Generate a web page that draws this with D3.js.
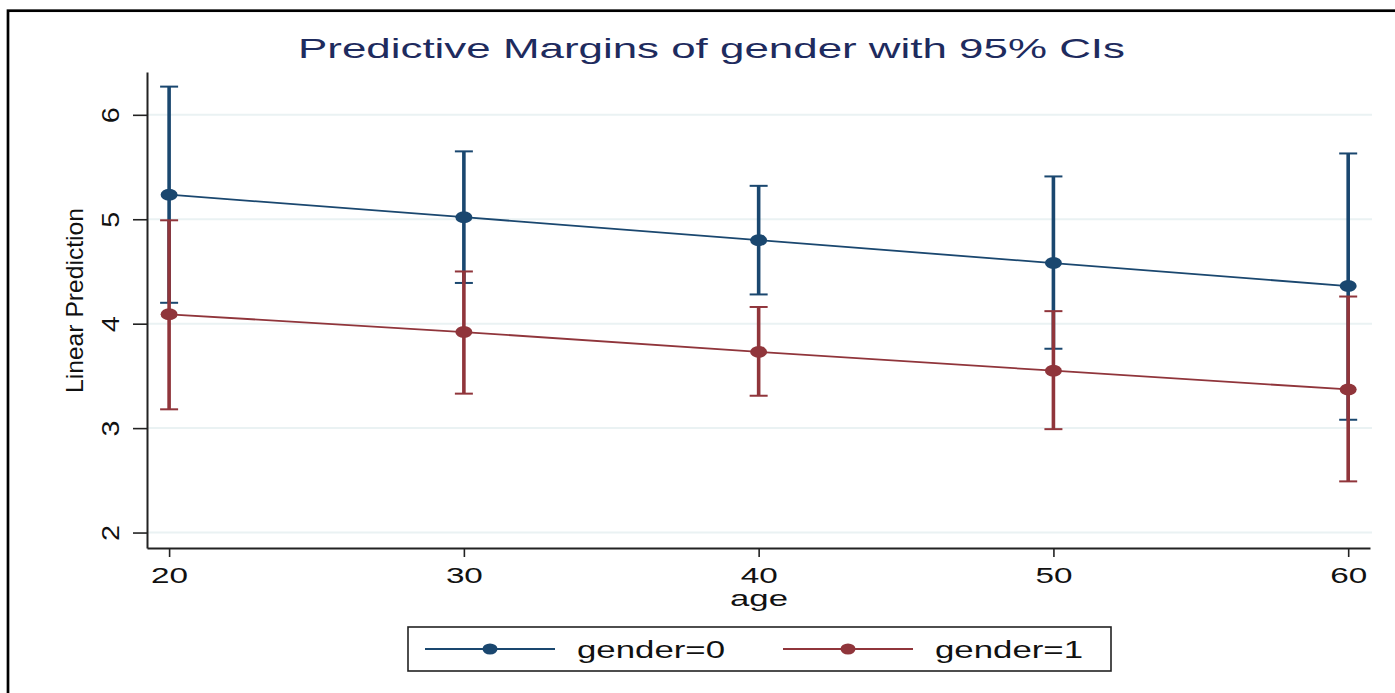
<!DOCTYPE html>
<html>
<head>
<meta charset="utf-8">
<script src="https://cdn.jsdelivr.net/npm/d3@7"></script>
<style>
  html, body { margin: 0; padding: 0; background: #fff; }
  svg { display: block; font-family: "Liberation Sans", Arial, sans-serif; }
</style>
</head>
<body>
<svg id="chart" width="1395" height="693"></svg>
<script>
// Predictive margins of gender by age, with 95% confidence limits
const ages = [20, 30, 40, 50, 60];

const margin0 = [5.235, 5.02, 4.80, 4.58, 4.36];
const lower0  = [4.20, 4.39, 4.28, 3.76, 3.08];
const upper0  = [6.27, 5.65, 5.32, 5.41, 5.63];

const margin1 = [4.09, 3.92, 3.73, 3.55, 3.37];
const lower1  = [3.18, 3.33, 3.31, 2.99, 2.49];
const upper1  = [4.99, 4.50, 4.16, 4.12, 4.26];

const yTicks = [2, 3, 4, 5, 6];
const xTicks = [20, 30, 40, 50, 60];
const seriesNames = ["gender=0", "gender=1"];

const titleText = "Predictive Margins of gender with 95% CIs";
const xTitle = "age";
const yTitle = "Linear Prediction";

const colors = ["#1a476f", "#90353b"];

const svg = d3.select("#chart");

// outer frame
svg.append("rect")
  .attr("x", 8).attr("y", 10.7)
  .attr("width", 1420).attr("height", 720)
  .attr("fill", "none").attr("stroke", "#000").attr("stroke-width", 2.7);

// plot region
const plotLeft = 147, plotRight = 1370, plotTop = 72, plotBottom = 548;

const x = d3.scaleLinear().domain([19.25, 60.74]).range([plotLeft, plotRight]);
const y = d3.scaleLinear().domain([1.852, 6.41]).range([plotBottom, plotTop]);

// gridlines
svg.append("g").selectAll("line")
  .data(yTicks).join("line")
  .attr("x1", plotLeft).attr("x2", plotRight + 2)
  .attr("y1", d => y(d)).attr("y2", d => y(d))
  .attr("stroke", "#eaf2f3").attr("stroke-width", 2);

// y axis
const yAxis = svg.append("g")
  .attr("transform", `translate(${plotLeft},0)`)
  .call(d3.axisLeft(y).tickValues(yTicks).tickSize(14).tickSizeOuter(0).tickFormat(d3.format("d")));
yAxis.select(".domain").attr("stroke", "#222").attr("stroke-width", 2);
yAxis.selectAll(".tick line").attr("stroke", "#222").attr("stroke-width", 1.6);
yAxis.selectAll(".tick text")
  .attr("transform", "rotate(-90)")
  .attr("x", 0).attr("y", -28).attr("dy", 0)
  .attr("text-anchor", "middle")
  .attr("font-size", 24)
  .attr("fill", "#111")
  .attr("textLength", 16).attr("lengthAdjust", "spacingAndGlyphs");

// x axis
const xAxis = svg.append("g")
  .attr("transform", `translate(0,${plotBottom})`)
  .call(d3.axisBottom(x).tickValues(xTicks).tickSize(9).tickSizeOuter(0).tickFormat(d3.format("d")));
xAxis.select(".domain").attr("stroke", "#222").attr("stroke-width", 2);
xAxis.selectAll(".tick line").attr("stroke", "#222").attr("stroke-width", 1.6);
xAxis.selectAll(".tick text")
  .attr("y", 35).attr("dy", 0)
  .attr("font-size", 22.5)
  .attr("fill", "#111")
  .attr("textLength", 37).attr("lengthAdjust", "spacingAndGlyphs");
svg.selectAll(".tick text").attr("font-family", "'Liberation Sans', Arial, sans-serif");

// axis titles
svg.append("text")
  .attr("x", 759).attr("y", 606)
  .attr("text-anchor", "middle")
  .attr("font-size", 22.5).attr("fill", "#111")
  .attr("textLength", 58).attr("lengthAdjust", "spacingAndGlyphs")
  .text(xTitle);

svg.append("text")
  .attr("transform", "translate(83,300.5) rotate(-90)")
  .attr("text-anchor", "middle")
  .attr("font-size", 24.5).attr("fill", "#111")
  .attr("textLength", 185).attr("lengthAdjust", "spacingAndGlyphs")
  .text(yTitle);

// title
svg.append("text")
  .attr("x", 711.5).attr("y", 58)
  .attr("text-anchor", "middle")
  .attr("font-size", 28).attr("fill", "#1e2b5e")
  .attr("textLength", 827).attr("lengthAdjust", "spacingAndGlyphs")
  .text(titleText);

// series
const series = [
  { name: seriesNames[0], m: margin0, lo: lower0, hi: upper0, color: colors[0] },
  { name: seriesNames[1], m: margin1, lo: lower1, hi: upper1, color: colors[1] }
];

const capHalf = 9;

// confidence intervals
series.forEach(s => {
  const g = svg.append("g").attr("stroke", s.color);
  g.selectAll("line.stem").data(ages).join("line").attr("class", "stem")
    .attr("x1", d => x(d)).attr("x2", d => x(d))
    .attr("y1", (d, i) => y(s.hi[i])).attr("y2", (d, i) => y(s.lo[i]))
    .attr("stroke-width", 3.6);
  g.selectAll("line.capHi").data(ages).join("line").attr("class", "capHi")
    .attr("x1", d => x(d) - capHalf).attr("x2", d => x(d) + capHalf)
    .attr("y1", (d, i) => y(s.hi[i])).attr("y2", (d, i) => y(s.hi[i]))
    .attr("stroke-width", 2);
  g.selectAll("line.capLo").data(ages).join("line").attr("class", "capLo")
    .attr("x1", d => x(d) - capHalf).attr("x2", d => x(d) + capHalf)
    .attr("y1", (d, i) => y(s.lo[i])).attr("y2", (d, i) => y(s.lo[i]))
    .attr("stroke-width", 2);
});

// connecting lines
const line = d3.line().x(d => x(d[0])).y(d => y(d[1]));
series.forEach(s => {
  svg.append("path")
    .datum(ages.map((a, i) => [a, s.m[i]]))
    .attr("d", line)
    .attr("fill", "none")
    .attr("stroke", s.color)
    .attr("stroke-width", 1.8);
});

// markers
series.forEach(s => {
  svg.append("g").selectAll("ellipse")
    .data(ages).join("ellipse")
    .attr("cx", d => x(d))
    .attr("cy", (d, i) => y(s.m[i]))
    .attr("rx", 8.5).attr("ry", 6)
    .attr("fill", s.color);
});

// legend
const legend = svg.append("g");
legend.append("rect")
  .attr("x", 408).attr("y", 627)
  .attr("width", 703).attr("height", 44)
  .attr("fill", "#fff").attr("stroke", "#222").attr("stroke-width", 1.6);

const legendItems = [
  { name: seriesNames[0], color: colors[0], x0: 425 },
  { name: seriesNames[1], color: colors[1], x0: 783 }
];
legendItems.forEach(it => {
  legend.append("line")
    .attr("x1", it.x0).attr("x2", it.x0 + 130)
    .attr("y1", 649).attr("y2", 649)
    .attr("stroke", it.color).attr("stroke-width", 1.8);
  legend.append("ellipse")
    .attr("cx", it.x0 + 65).attr("cy", 649)
    .attr("rx", 7.5).attr("ry", 5.5)
    .attr("fill", it.color);
  legend.append("text")
    .attr("x", it.x0 + 152).attr("y", 657.5)
    .attr("font-size", 23).attr("fill", "#111")
    .attr("textLength", 148).attr("lengthAdjust", "spacingAndGlyphs")
    .text(it.name);
});
</script>
</body>
</html>
